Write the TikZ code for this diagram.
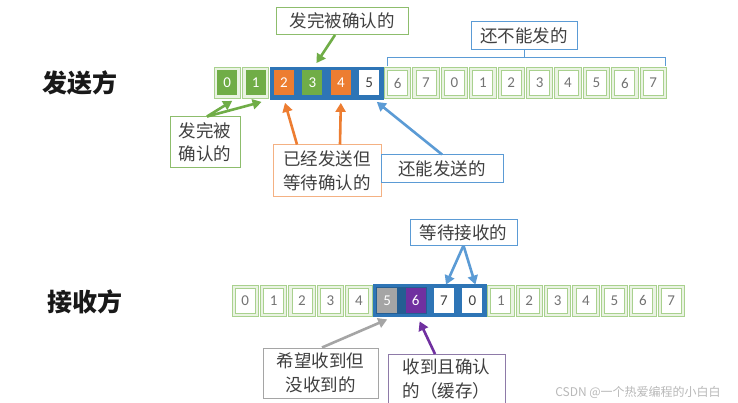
\documentclass[tikz,border=0pt]{standalone}
\usepackage{fontspec}
\setmainfont{Noto Sans CJK SC}
\newfontfamily\digitfont{Carlito}
\usetikzlibrary{arrows.meta,calc,fit}
\definecolor{cgreen}{HTML}{70AD47}
\definecolor{clgreen}{HTML}{A9D18E}
\definecolor{cpale}{HTML}{EAF3E3}
\definecolor{corange}{HTML}{ED7D31}
\definecolor{clorange}{HTML}{F4B183}
\definecolor{cblue}{HTML}{2E75B6}
\definecolor{clblue}{HTML}{5B9BD5}
\definecolor{cgray}{HTML}{A5A5A5}
\definecolor{cpurple}{HTML}{7030A0}
\definecolor{cpurpleb}{HTML}{8E7AA8}
\definecolor{ctext}{HTML}{404040}
\definecolor{cdig}{HTML}{737373}
\begin{document}
\begin{tikzpicture}[x=1pt,y=-1pt,
  cellout/.style={rectangle, minimum width=26.4pt, minimum height=31pt, inner sep=0pt, draw=clgreen, fill=cpale, line width=0.8pt},
  nodraw/.style={draw=none, fill=none},
  cellin/.style={rectangle, minimum width=20pt, minimum height=25pt, inner sep=0pt, font=\digitfont\fontsize{15}{15}\selectfont},
  kplain/.style={draw=clgreen, fill=white, text=cdig, line width=0.8pt},
  kdone/.style={fill=cgreen, text=white},
  ksent/.style={fill=corange, text=white},
  kfree/.style={fill=white, text=ctext},
  klost/.style={fill=cgray, text=white},
  kbuf/.style={fill=cpurple, text=white},
  lbox/.style={rectangle, draw, line width=1pt, fill=white, text=ctext, font=\fontsize{17.5}{23.5}\selectfont, align=center, inner sep=0pt},
  arr/.style={line width=2.6pt, -{Triangle[length=9pt,width=10pt]}},
  brk/.style={draw=clblue, line width=1pt},
  head/.style={font=\fontsize{25}{29}\selectfont\bfseries, text=black!90}
]
\useasboundingbox (0,0) rectangle (738,403);
\fill[white] (0,0) rectangle (738,403);

% headings
\node[head] (hsend) at (80,83) {发送方};
\node[head] (hrecv) at (85,302) {接收方};

% ---------- sender row ----------
\foreach \i in {0,...,15} {
  \ifnum\i<2
    \node[cellout] (s\i) at ({227.2+28.4*\i},83) {};
  \else\ifnum\i<6
    \node[cellout,nodraw] (s\i) at ({227.2+28.4*\i},83) {};
  \else
    \node[cellout] (s\i) at ({227.2+28.4*\i},83) {};
  \fi\fi
}
\node[fit=(s2)(s5), inner sep=0pt, fill=cblue, draw=cblue] (swin) {};
\foreach \i/\k in {0/kdone,1/kdone,2/ksent,3/kdone,4/ksent,5/kfree,6/kplain,7/kplain,8/kplain,9/kplain,10/kplain,11/kplain,12/kplain,13/kplain,14/kplain,15/kplain} {
  \pgfmathtruncatemacro\lab{mod(\i,8)}
  \node[cellin,\k] (si\i) at (s\i) {\lab};
}

% ---------- receiver row ----------
\foreach \i in {0,...,15} {
  \ifnum\i<5
    \node[cellout] (r\i) at ({245.2+28.4*\i},300.5) {};
  \else\ifnum\i<9
    \node[cellout,nodraw] (r\i) at ({245.2+28.4*\i},300.5) {};
  \else
    \node[cellout] (r\i) at ({245.2+28.4*\i},300.5) {};
  \fi\fi
}
\node[fit=(r5)(r8), inner sep=0pt, fill=cblue, draw=cblue] (rwin) {};
\node[fit=(r5)(r6), inner sep=-2pt, fill=cblue!80!black] (rrecv) {};
\foreach \i/\k in {0/kplain,1/kplain,2/kplain,3/kplain,4/kplain,5/klost,6/kbuf,7/kfree,8/kfree,9/kplain,10/kplain,11/kplain,12/kplain,13/kplain,14/kplain,15/kplain} {
  \pgfmathtruncatemacro\lab{mod(\i,8)}
  \node[cellin,\k] (ri\i) at (r\i) {\lab};
}

% ---------- sender labels ----------
\node[lbox, draw=cgreen!80, minimum width=132pt, minimum height=27pt] (topdone) at (342,21) {发完被确认的};
\node[lbox, draw=cgreen!80, minimum width=70pt, minimum height=51pt] (leftdone) at (205,142.5) {发完被\\确认的};
\node[lbox, draw=clorange, minimum width=108pt, minimum height=52pt] (sentbox) at (327,171) {已经发送但\\等待确认的};
\node[lbox, draw=clblue, minimum width=122pt, minimum height=28pt] (freebox) at (442,169) {还能发送的};
\node[lbox, draw=clblue, minimum width=106pt, minimum height=28pt] (notyet) at (524,36) {还不能发的};

\draw[arr, cgreen] ($(topdone.south)+(-7,0)$) -- ($(s3.north)+(4,-4)$);
\draw[arr, cgreen] ($(leftdone.north)+(2,0)$) -- ($(s0.south)+(5,2)$);
\draw[arr, cgreen] ($(leftdone.north)+(2,0)$) -- ($(s1.south)+(6,3)$);
\draw[arr, corange] ($(sentbox.north)+(-30,0)$) -- ($(s2.south)+(1,4)$);
\draw[arr, corange] ($(sentbox.north)+(13,0)$) -- ($(s4.south)+(0,4)$);
\draw[arr, clblue] (freebox.north) -- ($(s5.south east)+(-6,3)$);

\coordinate (bl) at ($(s6.north west)+(3,-10)$);
\coordinate (br) at ($(s15.north east)+(-1,-10)$);
\draw[brk] ($(s6.north west)+(3,-1)$) -- (bl) -- (br) -- ($(s15.north east)+(-1,-1)$);
\draw[brk] (notyet.south) -- (notyet.south |- bl);

% ---------- receiver labels ----------
\node[lbox, draw=clblue, minimum width=107pt, minimum height=25pt] (waitrecv) at (463.5,232.5) {等待接收的};
\node[lbox, draw=cgray, minimum width=115pt, minimum height=50pt] (lostbox) at (320.5,373) {希望收到但\\没收到的};
\node[lbox, draw=cpurpleb, minimum width=117pt, minimum height=49pt] (bufbox) at (446.5,379) {收到且确认\\的（缓存）};

\draw[arr, clblue] (waitrecv.south) -- ($(r7.north)+(2,0)$);
\draw[arr, clblue] (waitrecv.south) -- ($(r8.north)+(3,0)$);
\draw[arr, cgray] ($(lostbox.north)+(1.5,0)$) -- ($(r5.south)+(0,3)$);
\draw[arr, cpurple] ($(bufbox.north)+(-11.5,0)$) -- ($(r6.south)+(4,5)$);

% watermark
\node[font=\fontsize{12}{13}\selectfont, text=gray!55] (wm) at (638,392) {CSDN @一个热爱编程的小白白};
\end{tikzpicture}
\end{document}
